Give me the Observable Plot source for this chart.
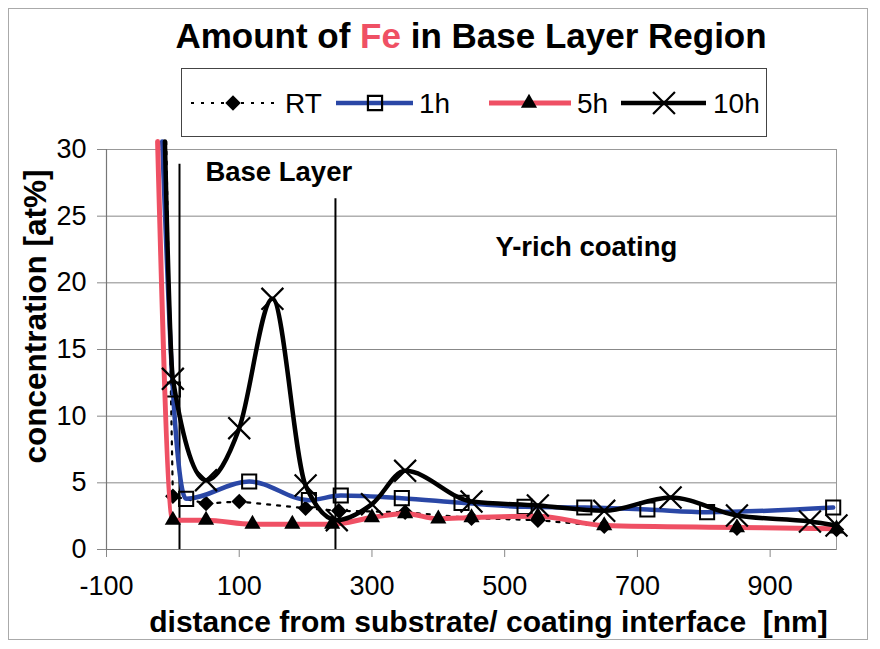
<!DOCTYPE html>
<html>
<head>
<meta charset="utf-8">
<script src="https://cdn.jsdelivr.net/npm/d3@7"></script>
<script src="https://cdn.jsdelivr.net/npm/@observablehq/plot@0.6"></script>
<style>
  body { margin: 0; background: #fff; font-family: "Liberation Sans", Arial, sans-serif; }
  #wrap { position: relative; width: 880px; height: 649px; overflow: hidden; background: #fff; }
  #border { position: absolute; left: 8px; top: 8px; width: 858px; height: 630px; border: 1px solid #aaa; }
  #title { position: absolute; left: 0; top: 16px; width: 942px; text-align: center; font-weight: bold; font-size: 35px; color: #000; white-space: nowrap; }
  #title .fe { color: #ef5064; }
  #legend { position: absolute; left: 181px; top: 68px; width: 586px; height: 69px; border: 1px solid #444; box-sizing: border-box; }
  #chart { position: absolute; left: 0; top: 140px; }
</style>
</head>
<body>
<div id="wrap">
  <div id="border"></div>
  <div id="title">Amount of <span class="fe">Fe</span> in Base Layer Region</div>
  <div id="legend"></div>
  <div id="chart"></div>
</div>
<script>
// ---- data ----
const seriesNames = ["RT", "1h", "5h", "10h"];

const rtX  = [-10, 0, 50, 100, 200, 250, 350, 450, 550, 650, 850, 1000];
const rtY  = [30.6, 4.0, 3.45, 3.6, 3.1, 2.9, 2.8, 2.35, 2.2, 1.75, 1.6, 1.5];

const h1X  = [-16, 0, 20, 115, 205, 253, 345, 435, 530, 620, 715, 805, 995];
const h1Y  = [30.6, 12.0, 3.8, 5.1, 3.7, 4.05, 3.85, 3.5, 3.2, 3.15, 3.0, 2.8, 3.15];

const h5X  = [-23, 0, 50, 120, 180, 240, 300, 350, 400, 450, 550, 650, 850, 1000];
const h5Y  = [30.6, 2.2, 2.2, 1.9, 1.9, 1.9, 2.4, 2.7, 2.3, 2.4, 2.5, 1.8, 1.65, 1.55];

const h10X = [-12, 0, 50, 100, 150, 200, 247, 300, 350, 450, 550, 650, 750, 850, 960, 1000];
const h10Y = [30.6, 12.8, 5.2, 9.1, 18.8, 4.8, 2.2, 3.4, 5.9, 3.6, 3.3, 2.9, 3.9, 2.55, 2.1, 1.8];

const yTicks = [0, 5, 10, 15, 20, 25, 30];
const xTicks = [-100, 100, 300, 500, 700, 900];

const boundaryX   = [10, 245];
const boundaryTop = [28.9, 26.3];

const noteText = ["Base Layer", "Y-rich coating"];
const noteX    = [49, 486];
const noteY    = [28.3, 22.7];

const xLabel = "distance from substrate/ coating interface  [nm]";
const yLabel = "concentration [at%]";

// ---- build tables ----
const toRows = (xs, ys) => xs.map((x, i) => ({x, y: ys[i]}));
const rt = toRows(rtX, rtY), h1 = toRows(h1X, h1Y), h5 = toRows(h5X, h5Y), h10 = toRows(h10X, h10Y);
const bounds = boundaryX.map((x, i) => ({x, top: boundaryTop[i]}));
const notes = noteText.map((t, i) => ({t, x: noteX[i], y: noteY[i]}));
const onChart = d => d.y <= 30;

const BLUE = "#2a47a6", RED = "#ef5064";

const plot = Plot.plot({
  width: 880,
  height: 509,
  marginTop: 9,
  marginBottom: 100,
  marginLeft: 106,
  marginRight: 44,
  style: { fontFamily: "Liberation Sans, Arial, sans-serif", fontSize: "27px", color: "#000", background: "transparent", overflow: "visible" },
  x: { domain: [-100, 1000] },
  y: { domain: [0, 30] },
  marks: [
    Plot.gridY(yTicks.slice(1), { stroke: "#888", strokeOpacity: 1, strokeWidth: 1 }),
    Plot.frame({ stroke: "#999", strokeWidth: 1 }),
    Plot.axisY({ ticks: yTicks, tickSize: 9, tickPadding: 11, label: null, stroke: "#888", fontSize: 27 }),
    Plot.axisX({ ticks: xTicks, tickSize: 8, tickPadding: 18, label: null, stroke: "#888", fontSize: 27, tickFormat: d => String(d) }),
    Plot.ruleX([-100], { stroke: "#777", strokeWidth: 1.2 }),
    Plot.ruleY([0], { stroke: "#777", strokeWidth: 1.2 }),
    // boundaries
    Plot.ruleX(bounds, { x: "x", y1: 0, y2: "top", stroke: "#000", strokeWidth: 2 }),
    // RT
    Plot.line(rt, { x: "x", y: "y", stroke: "#000", strokeWidth: 2.2, strokeDasharray: "3,7", curve: "linear" }),
    Plot.dot(rt, { filter: onChart, x: "x", y: "y", symbol: "diamond2", r: 7, fill: "#000", stroke: "none" }),
    // 1h
    Plot.line(h1, { x: "x", y: "y", stroke: BLUE, strokeWidth: 4.5, curve: "monotone-x" }),
    Plot.dot(h1, { filter: onChart, x: "x", y: "y", symbol: "square2", r: 9, fill: "none", stroke: "#000", strokeWidth: 2 }),
    // 5h
    Plot.line(h5, { x: "x", y: "y", stroke: RED, strokeWidth: 5, curve: "monotone-x" }),
    Plot.dot(h5, { filter: onChart, x: "x", y: "y", symbol: "triangle", r: 6, fill: "#000", stroke: "none" }),
    // 10h
    Plot.line(h10, { x: "x", y: "y", stroke: "#000", strokeWidth: 4.5, curve: "monotone-x" }),
    Plot.dot(h10, { filter: onChart, x: "x", y: "y", symbol: "times", r: 10, stroke: "#000", strokeWidth: 2.2 }),
    // annotations
    Plot.text(notes, { x: "x", y: "y", text: "t", textAnchor: "start", fontWeight: "bold", fontSize: 27.5, fill: "#000" }),
    // axis labels
    Plot.text([xLabel], { frameAnchor: "bottom", text: d => d, textAnchor: "middle", lineAnchor: "middle", dx: 17, dy: 73, fontWeight: "bold", fontSize: 30, fill: "#000" }),
    Plot.text([yLabel], { frameAnchor: "left", text: d => d, textAnchor: "middle", lineAnchor: "middle", rotate: -90, dx: -71, dy: -33, fontWeight: "bold", fontSize: 31.5, fill: "#000" })
  ]
});
document.getElementById("chart").appendChild(plot);

// ---- legend ----
const lg = d3.select("#legend").append("svg").attr("width", 584).attr("height", 67)
  .style("font-family", "Liberation Sans, Arial, sans-serif");
const cy = 34;
const legendItems = [
  { name: seriesNames[0], x0: 9,   x1: 97,  mx: 51,  tx: 103, stroke: "#000", sw: 2.2, dash: "3,7", sym: d3.symbolDiamond2, size: Math.PI*7*7,  fill: "#000", mstroke: "none" },
  { name: seriesNames[1], x0: 154, x1: 231, mx: 193, tx: 237, stroke: BLUE,   sw: 4.5, dash: null,  sym: d3.symbolSquare2,  size: Math.PI*9*9,  fill: "none", mstroke: "#000" },
  { name: seriesNames[2], x0: 307, x1: 389, mx: 347, tx: 395, stroke: RED,    sw: 5,   dash: null,  sym: d3.symbolTriangle, size: Math.PI*6*6,  fill: "#000", mstroke: "none" },
  { name: seriesNames[3], x0: 439, x1: 524, mx: 482, tx: 531, stroke: "#000", sw: 4.5, dash: null,  sym: d3.symbolTimes,    size: Math.PI*10*10, fill: "none", mstroke: "#000" }
];
for (const it of legendItems) {
  lg.append("line").attr("x1", it.x0).attr("x2", it.x1).attr("y1", cy).attr("y2", cy)
    .attr("stroke", it.stroke).attr("stroke-width", it.sw).attr("stroke-dasharray", it.dash);
  lg.append("path").attr("d", d3.symbol(it.sym, it.size)()).attr("transform", `translate(${it.mx},${cy})`)
    .attr("fill", it.fill).attr("stroke", it.mstroke).attr("stroke-width", 2.2);
  lg.append("text").attr("x", it.tx).attr("y", cy).attr("dy", "0.36em").attr("font-size", 28).text(it.name);
}
</script>
</body>
</html>
